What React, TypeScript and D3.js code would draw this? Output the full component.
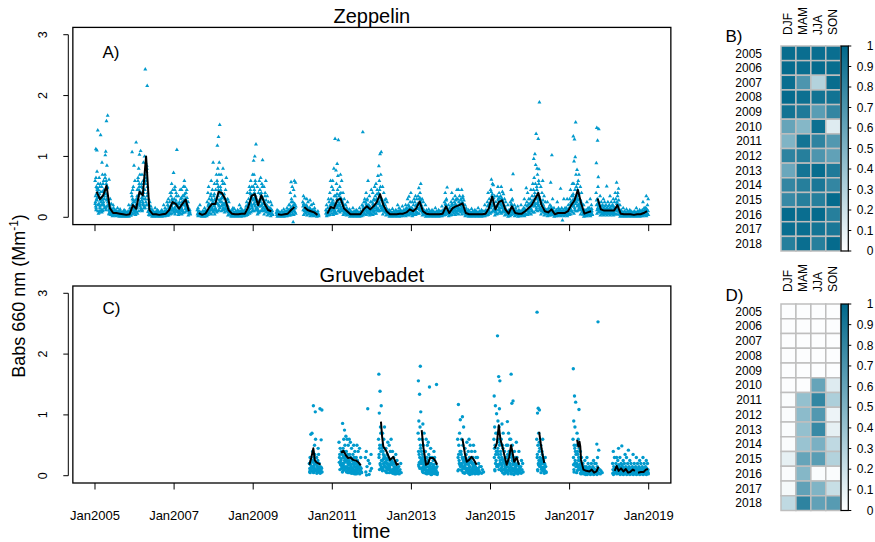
import React from "react";
import * as d3 from "d3";

// ---------------- data ----------------
const years = [2005, 2006, 2007, 2008, 2009, 2010, 2011, 2012, 2013, 2014, 2015, 2016, 2017, 2018];
const seasons = ["DJF", "MAM", "JJA", "SON"];
const xTickYears = [2005, 2007, 2009, 2011, 2013, 2015, 2017, 2019];
const yTicks = [0, 1, 2, 3];
const colorbarTicks = [0, 0.1, 0.2, 0.3, 0.4, 0.5, 0.6, 0.7, 0.8, 0.9, 1];

// seasonal data coverage (fraction), rows = years, cols = DJF MAM JJA SON
const zepCoverage = [
  [0.97, 0.96, 0.96, 0.96],
  [0.98, 0.96, 0.98, 0.97],
  [0.96, 0.7, 0.3, 0.97],
  [0.98, 0.95, 0.93, 0.93],
  [0.93, 0.88, 0.65, 0.8],
  [0.6, 0.48, 0.95, 0.13],
  [0.5, 0.92, 0.82, 0.68],
  [0.82, 0.85, 0.7, 0.62],
  [0.58, 0.92, 0.97, 0.88],
  [0.8, 0.85, 0.9, 0.8],
  [0.78, 0.85, 0.85, 0.98],
  [0.98, 0.96, 0.98, 0.85],
  [0.96, 0.96, 0.92, 0.9],
  [0.85, 0.96, 0.85, 0.98],
];
const gruCoverage = [
  [0.01, 0.01, 0.01, 0.01],
  [0.01, 0.01, 0.01, 0.01],
  [0.01, 0.01, 0.01, 0.01],
  [0.01, 0.01, 0.01, 0.01],
  [0.01, 0.01, 0.01, 0.01],
  [0.01, 0.01, 0.6, 0.13],
  [0.02, 0.42, 0.8, 0.32],
  [0.02, 0.45, 0.68, 0.07],
  [0.02, 0.42, 0.78, 0.1],
  [0.02, 0.4, 0.52, 0.25],
  [0.1, 0.6, 0.65, 0.3],
  [0.02, 0.48, 0.02, 0.02],
  [0.04, 0.62, 0.5, 0.22],
  [0.25, 0.82, 0.62, 0.66],
];

// Zeppelin running mean, monthly (Mm-1)
const zepMonthlyMean: (number | null)[][] = [
  [0.42, 0.30, 0.36, 0.52, 0.15, 0.07, 0.07, 0.06, 0.05, 0.04, 0.05, 0.20],
  [0.14, 0.42, 0.36, 1.0, 0.12, 0.05, 0.05, 0.04, 0.05, 0.06, 0.12, 0.25],
  [0.22, 0.14, 0.22, 0.29, 0.10, null, null, 0.07, 0.04, 0.06, 0.15, 0.22],
  [0.22, 0.42, 0.40, 0.30, 0.12, 0.06, 0.05, 0.05, 0.06, 0.06, 0.17, 0.35],
  [0.38, 0.20, 0.36, 0.22, 0.12, 0.10, null, 0.05, 0.04, 0.05, 0.06, 0.12],
  [0.17, null, null, 0.17, 0.12, 0.10, 0.08, 0.04, null, null, 0.06, 0.17],
  [0.15, 0.28, 0.31, 0.15, 0.10, 0.05, 0.05, 0.05, 0.05, 0.13, 0.18, 0.13],
  [0.18, 0.25, 0.38, 0.20, 0.10, 0.05, 0.05, 0.05, 0.06, 0.06, 0.08, 0.13],
  [0.10, 0.15, 0.26, 0.10, 0.06, 0.05, 0.05, 0.05, 0.05, 0.06, 0.18, 0.07],
  [0.15, 0.18, 0.20, 0.23, 0.07, 0.05, 0.05, 0.05, 0.05, 0.05, 0.06, 0.15],
  [0.34, 0.13, 0.25, 0.28, 0.13, 0.06, 0.18, 0.07, 0.06, 0.06, 0.10, 0.15],
  [0.20, 0.30, 0.40, 0.20, 0.10, 0.08, 0.13, 0.05, 0.07, 0.07, 0.07, 0.10],
  [0.20, 0.28, 0.45, 0.23, 0.06, 0.08, 0.10, null, 0.31, 0.13, 0.11, 0.11],
  [0.11, 0.11, 0.20, 0.06, 0.05, 0.05, 0.05, 0.04, 0.05, 0.05, 0.07, 0.10],
];

// Zeppelin daily values, grouped by month (Mm-1)
const zep2005 = [
  [.12,.2,.28,.35,.42,.5,.6,.75,1.12,1.43,.3,.25,.45,.15,.55,1.1,.18,.32,.38,.22,.48,.65,.1],
  [.08,.12,.18,.22,.3,.38,.45,.55,.65,.25,.15,.35,1.35,.1,.2,.28,.33,.42,.5,.06],
  [.1,.15,.2,.28,.35,.42,.5,.6,.7,.3,.22,.9,.45,.12,.18,.25,.32,.38,.55,.08],
  [.15,.25,.3,.4,.5,.6,.7,.85,1.08,1.67,1.58,1.02,.35,.45,.2,.28,.38,.48,.55,.65,.18,.12],
  [.05,.08,.1,.12,.15,.2,.25,.3,.62,.12,.07,.18,.09,.14,.22,.11,.06,.04],
  [.02,.03,.05,.06,.08,.1,.12,.15,.04,.07,.2,.05,.09,.03,.11,.06,.13],
  [.02,.03,.04,.06,.08,.1,.12,.05,.07,.15,.09,.04,.06,.11,.03,.08],
  [.01,.02,.04,.05,.06,.08,.1,.13,.03,.07,.05,.09,.02,.06,.04,.11],
  [.01,.02,.03,.04,.05,.06,.08,.1,.04,.12,.03,.07,.05,.02,.09],
  [.01,.02,.03,.04,.05,.06,.08,.02,.1,.04,.03,.05,.07,.02,.06],
  [.01,.03,.04,.05,.06,.08,.1,.15,.2,.03,.05,.07,.12,.04,.09],
  [.05,.1,.15,.2,.25,.3,.4,.5,1.07,.85,.12,.08,.18,.22,.14,.28,.35,.06,.45],
];
const zep2006 = [
  [.04,.06,.1,.12,.15,.2,.25,.3,.08,.45,1.23,.6,.18,.14,.22,.09,.28,.35,.11],
  [.1,.15,.2,.3,.4,.5,.6,.7,.8,1.09,1.03,.35,.25,.45,.12,.22,.28,.38,.55,.65,.18],
  [.1,.15,.2,.28,.35,.42,.5,.6,.7,.3,.25,.55,.9,.12,.18,.22,.32,.4,.48],
  [.3,.5,.6,.7,.8,.9,1.0,.75,2.43,2.16,.65,.45,.85,.55,.4,.2,.15,.35,.25,.6],
  [.04,.06,.08,.1,.12,.15,.2,.25,.3,.07,.05,.09,.13,.11,.18,.03],
  [.01,.02,.03,.04,.05,.06,.08,.1,.13,.03,.05,.07,.04,.09,.02],
  [.01,.02,.03,.04,.05,.06,.08,.1,.15,.04,.06,.03,.07,.05,.12],
  [.01,.02,.03,.04,.05,.06,.08,.02,.1,.03,.05,.04,.07,.06],
  [.01,.02,.03,.05,.06,.08,.1,.04,.12,.2,.03,.07,.05,.09],
  [.02,.03,.04,.05,.06,.08,.1,.12,.15,.25,.04,.07,.05,.09,.03],
  [.03,.05,.08,.1,.12,.15,.2,.25,.3,.4,.06,.09,.14,.18,.11,.07],
  [.06,.1,.15,.2,.25,.3,.35,.45,.55,.73,.12,.18,.22,.28,.08,.14,.4],
];
const zep2007 = [
  [.05,.1,.12,.15,.2,.25,.3,.4,.5,1.11,.18,.08,.35,.14,.22,.28,.45,.1],
  [.04,.06,.08,.1,.12,.15,.2,.25,.35,.45,.07,.09,.13,.18,.11,.22],
  [.05,.08,.12,.15,.2,.25,.3,.35,.45,.5,.1,.18,.22,.14,.28,.07,.32],
  [.08,.12,.15,.2,.25,.3,.35,.4,.5,.45,.18,.6,.28,.22,.32,.14,.38,.1],
  [.03,.05,.07,.1,.12,.15,.2,.08,.25,.06,.11,.14,.09],
  [],
  [],
  [.02,.03,.05,.06,.08,.1,.12,.04,.15,.2,.07,.05,.09,.03],
  [.01,.02,.03,.04,.05,.06,.08,.1,.03,.05,.04,.07,.02,.06],
  [.01,.02,.04,.05,.06,.08,.1,.12,.15,.03,.05,.07,.04,.09],
  [.04,.06,.08,.1,.15,.2,.25,.3,.4,.12,.5,.07,.11,.18,.14,.22],
  [.05,.1,.15,.2,.25,.3,.35,.45,.6,.9,.12,.18,.22,.28,.08,.14,.38],
];
const zep2008 = [
  [.05,.1,.15,.2,.25,.3,.35,.45,.55,.7,.12,.18,.22,.28,.08,.14,.38],
  [.1,.15,.2,.3,.4,.5,.6,.7,.8,1.52,1.32,1.18,.9,.35,.25,.12,.22,.28,.45,.55,.18],
  [.1,.15,.2,.3,.35,.4,.5,.6,.7,.8,.25,.45,.12,.18,.22,.32,.38,.55],
  [.08,.1,.15,.2,.25,.3,.35,.45,.55,.65,.2,.12,.18,.22,.28,.14,.38],
  [.03,.05,.08,.1,.12,.15,.2,.25,.3,.06,.09,.13,.11,.18,.07],
  [.01,.02,.04,.05,.06,.08,.1,.12,.03,.15,.05,.07,.04,.09],
  [.01,.02,.03,.04,.05,.06,.08,.1,.14,.03,.05,.07,.04,.06],
  [.01,.02,.03,.04,.05,.06,.08,.1,.12,.2,.03,.05,.07,.04],
  [.01,.02,.04,.05,.06,.08,.1,.12,.15,.03,.05,.07,.04,.09],
  [.02,.03,.04,.05,.06,.08,.1,.13,.04,.18,.05,.07,.03,.09],
  [.04,.06,.08,.1,.15,.2,.25,.3,.4,.5,.12,.07,.11,.18,.14,.22],
  [.08,.12,.18,.25,.3,.35,.4,.5,.6,.7,.2,.45,.15,.22,.28,.32,.38,.1],
];
const zep2009 = [
  [.1,.15,.2,.3,.35,.4,.5,.6,.7,1.2,1.0,.93,.25,.45,.12,.18,.22,.28,.32,.38,.55],
  [.05,.08,.12,.15,.2,.25,.3,.4,.5,.6,.1,.14,.18,.22,.28,.07],
  [.1,.15,.2,.25,.3,.35,.45,.55,.65,.94,.4,.28,.12,.18,.22,.32,.38,.5],
  [.05,.08,.12,.15,.2,.25,.3,.4,.5,.6,.18,.1,.14,.22,.28,.35],
  [.03,.05,.08,.1,.12,.15,.2,.25,.35,.07,.09,.13,.11,.18],
  [.02,.04,.06,.08,.1,.12,.15,.2,.25,.05,.07,.09,.11,.14],
  [],
  [.01,.02,.03,.04,.05,.06,.08,.1,.12,.03,.05,.07,.04],
  [.01,.02,.03,.04,.05,.06,.08,.1,.03,.05,.04,.07,.02],
  [.01,.02,.03,.04,.05,.06,.08,.1,.13,.03,.05,.07,.04],
  [.02,.03,.04,.05,.06,.08,.1,.12,.15,.2,.04,.07,.05,.09],
  [.03,.05,.08,.1,.12,.15,.2,.3,.4,.5,.58,.06,.09,.14,.18,.25,.11],
];
const zep2010 = [
  [.04,.06,.1,.12,.15,.2,.25,.35,.45,.57,.6,-.08,.08,.14,.18,.22,.11],
  [],
  [],
  [.04,.06,.1,.12,.15,.2,.25,.31,.35,.08,.14,.18,.11,.22],
  [.03,.05,.08,.1,.12,.15,.2,.25,.3,.06,.09,.13,.11,.18],
  [.02,.04,.06,.08,.1,.12,.15,.2,.28,.05,.07,.09,.11,.14],
  [.02,.03,.05,.06,.08,.1,.12,.15,.22,.04,.07,.09,.11],
  [.01,.02,.03,.04,.05,.06,.08,.1,.03,.05,.04,.07],
  [],
  [],
  [.02,.03,.05,.06,.08,.1,.12,.15,.2,.3,.04,.07,.09],
  [.04,.06,.1,.12,.15,.2,.25,.3,.4,.5,.6,.08,.14,.18,.22,.11],
];
const zep2011 = [
  [.04,.06,.08,.12,.15,.2,.25,.35,.45,1.29,.8,.6,.1,.14,.18,.22,.28,.11],
  [.06,.1,.15,.2,.25,.3,.35,.45,.55,1.27,.88,.77,.68,.2,.12,.18,.22,.28,.38],
  [.08,.12,.15,.2,.25,.3,.35,.4,.5,.6,.7,.22,.14,.18,.28,.32,.38,.1],
  [.04,.06,.08,.12,.15,.2,.25,.3,.4,.1,.14,.18,.11,.22],
  [.03,.05,.07,.1,.12,.15,.2,.25,.06,.09,.13,.11,.08],
  [.01,.02,.03,.04,.05,.06,.08,.1,.13,.03,.05,.07,.04],
  [.01,.02,.03,.04,.05,.06,.08,.1,.15,.03,.05,.07,.04],
  [.01,.02,.03,.04,.05,.06,.08,.1,.12,.03,.05,.07,.04],
  [.01,.02,.03,.04,.05,.06,.08,.1,.15,.03,.05,.07,.04],
  [.03,.05,.08,.1,.12,.15,.2,.25,1.4,.3,.06,.09,.14,.18,.11],
  [.04,.06,.1,.12,.15,.2,.25,.3,.4,.6,.08,.14,.18,.22,.11,.28],
  [.03,.05,.08,.1,.12,.15,.2,.25,.35,.45,.06,.09,.14,.18,.11],
];
const zep2012 = [
  [.04,.06,.1,.12,.15,.2,.25,.3,.4,.5,.08,.14,.18,.22,.11,.28],
  [.06,.1,.15,.2,.25,.3,.35,.45,.55,.68,.12,.18,.22,.28,.14,.38],
  [.1,.15,.2,.25,.3,.35,.4,.5,.6,1.07,1.04,.84,.7,.45,.12,.18,.22,.28,.32,.38],
  [.05,.08,.12,.15,.2,.25,.3,.4,.5,.1,.14,.18,.22,.11,.28],
  [.03,.05,.07,.1,.12,.15,.2,.25,.3,.06,.09,.13,.11,.08],
  [.01,.02,.03,.04,.05,.06,.08,.1,.12,.03,.05,.07,.04],
  [.01,.02,.03,.04,.05,.06,.08,.1,.14,.03,.05,.07,.04],
  [.01,.02,.03,.04,.05,.06,.08,.1,.12,.2,.03,.05,.07,.04],
  [.01,.02,.04,.05,.06,.08,.1,.12,.15,.03,.05,.07,.04,.09],
  [.02,.03,.04,.05,.06,.08,.1,.12,.18,.04,.07,.05,.09],
  [.02,.04,.05,.07,.08,.1,.12,.15,.2,.3,.06,.09,.11,.14],
  [.03,.05,.08,.1,.12,.15,.2,.25,.34,.4,.06,.09,.14,.18,.11],
];
const zep2013 = [
  [.02,.04,.06,.08,.1,.12,.15,.2,.25,.3,.05,.09,.11,.14],
  [.04,.06,.08,.1,.15,.2,.25,.3,.35,.07,.09,.12,.14,.18,.22],
  [.06,.1,.15,.2,.25,.3,.35,.4,.48,.55,.12,.14,.18,.22,.28,.32],
  [.03,.05,.07,.1,.12,.15,.2,.25,.3,.06,.09,.13,.11,.08],
  [.01,.02,.04,.05,.06,.08,.1,.12,.2,.03,.07,.05,.09],
  [.01,.02,.03,.04,.05,.06,.08,.1,.13,.03,.05,.07,.04],
  [.01,.02,.03,.04,.05,.06,.08,.1,.12,.03,.05,.07,.04],
  [.01,.02,.03,.04,.05,.06,.08,.1,.15,.03,.05,.07,.04],
  [.01,.02,.03,.04,.05,.06,.08,.1,.12,.03,.05,.07,.04],
  [.02,.03,.04,.05,.06,.08,.1,.12,.18,.04,.07,.05,.09],
  [.04,.06,.1,.12,.15,.2,.25,.3,.4,.49,.08,.14,.18,.22,.11,.28],
  [.02,.03,.05,.06,.08,.1,.12,.15,.2,.04,.07,.09,.11],
];
const zep2014 = [
  [.04,.06,.08,.12,.15,.2,.25,.3,.4,.1,.14,.18,.11,.22],
  [.04,.06,.1,.12,.15,.2,.25,.3,.35,.45,.08,.14,.18,.22,.11,.28],
  [.05,.08,.12,.15,.2,.25,.3,.35,.45,.1,.14,.18,.22,.11,.28],
  [.05,.1,.12,.15,.2,.25,.3,.35,.45,.08,.14,.18,.22,.11,.28,.32],
  [.02,.03,.05,.06,.08,.1,.12,.15,.2,.04,.07,.09,.11],
  [.01,.02,.03,.04,.05,.06,.08,.1,.12,.03,.05,.07,.04],
  [.01,.02,.03,.04,.05,.06,.08,.1,.14,.03,.05,.07,.04],
  [.01,.02,.03,.04,.05,.06,.08,.1,.12,.03,.05,.07,.04],
  [.01,.02,.03,.04,.05,.06,.08,.1,.15,.03,.05,.07,.04],
  [.01,.02,.03,.04,.05,.06,.08,.1,.12,.03,.05,.07,.04],
  [.02,.03,.04,.05,.06,.08,.1,.12,.2,.04,.07,.05,.09],
  [.04,.06,.08,.1,.15,.2,.25,.3,.4,.07,.12,.18,.22,.11],
];
const zep2015 = [
  [.08,.12,.18,.25,.3,.35,.45,.55,.62,.53,.2,.15,.22,.28,.32,.38,.42,.1],
  [.03,.05,.08,.1,.12,.15,.2,.25,.35,.06,.09,.14,.18,.11],
  [.06,.1,.12,.18,.22,.28,.35,.4,.5,.15,.14,.2,.25,.3,.08,.32],
  [.06,.1,.15,.2,.25,.3,.35,.42,.5,.12,.18,.22,.28,.32,.38,.08],
  [.03,.05,.08,.1,.12,.15,.2,.25,.3,.06,.09,.13,.11,.18],
  [.01,.02,.04,.05,.06,.08,.1,.12,.2,.03,.07,.05,.09],
  [.04,.06,.1,.12,.15,.2,.25,.3,.45,.71,.08,.14,.18,.22,.11,.28],
  [.02,.03,.05,.06,.08,.1,.12,.15,.2,.04,.07,.09,.11],
  [.01,.02,.04,.05,.06,.08,.1,.12,.18,.03,.07,.05,.09],
  [.02,.03,.04,.05,.06,.08,.1,.12,.2,.04,.07,.05,.09],
  [.02,.04,.06,.08,.1,.12,.15,.2,.3,.48,.05,.09,.11,.14],
  [.04,.06,.08,.1,.15,.2,.25,.3,.4,.07,.12,.18,.22,.11],
];
const zep2016 = [
  [.05,.08,.12,.15,.2,.25,.3,.35,.45,.55,.1,.14,.18,.22,.28],
  [.08,.12,.18,.25,.3,.35,.45,.55,.65,1.37,1.04,.96,.86,.2,.15,.22,.28,.32,.4],
  [.1,.15,.2,.3,.35,.4,.5,.6,.7,1.89,1.29,.8,.79,.25,.12,.18,.22,.28,.32,.45,.55],
  [.05,.08,.12,.15,.2,.25,.3,.4,.5,.6,.1,.14,.18,.22,.28],
  [.03,.05,.07,.1,.12,.15,.2,.25,.35,.06,.09,.13,.11,.08],
  [.02,.03,.05,.06,.08,.1,.12,.15,.25,.04,.07,.09,.11],
  [.03,.05,.08,.1,.12,.15,.2,1.02,.57,.3,.06,.09,.14,.18,.11],
  [.01,.02,.03,.04,.05,.06,.08,.1,.15,.03,.05,.07,.04],
  [.02,.03,.05,.06,.08,.1,.12,.15,.25,.04,.07,.09,.11],
  [.02,.03,.05,.06,.08,.1,.12,.15,.47,-.05,.04,.07,.09,.11],
  [.02,.03,.05,.06,.08,.1,.12,.15,.3,.04,.07,.09,.11],
  [.02,.04,.06,.08,.1,.12,.15,.2,.3,.05,.09,.11,.14],
];
const zep2017 = [
  [.05,.08,.12,.15,.2,.25,.3,.35,.45,.55,.1,.14,.18,.22,.28],
  [.06,.1,.15,.2,.25,.3,.35,.45,.55,1.56,1.28,1.33,.99,.92,.7,.12,.18,.22,.28,.38],
  [.1,.15,.2,.3,.4,.45,.5,.6,.78,.7,.35,.25,.12,.18,.22,.28,.32,.38,.55],
  [.05,.08,.12,.15,.2,.25,.3,.4,.5,.1,.14,.18,.22,.28],
  [.01,.02,.04,.05,.06,.08,.1,.12,.2,.03,.07,.05,.09],
  [.02,.03,.05,.06,.08,.1,.12,.15,.25,.04,.07,.09,.11],
  [.02,.04,.06,.08,.1,.12,.15,.2,.3,.05,.09,.11,.14],
  [],
  [.06,.1,.15,.2,.25,.3,.4,.5,1.47,1.45,1.26,.89,.66,.12,.18,.22,.28,.08],
  [.03,.05,.08,.1,.12,.15,.2,.25,.35,.06,.09,.14,.18,.11],
  [.03,.05,.07,.1,.12,.15,.2,.25,.3,.06,.09,.14,.18,.11],
  [.03,.05,.07,.1,.12,.15,.2,.25,.51,.06,.09,.14,.18,.11],
];
const zep2018 = [
  [.03,.05,.07,.1,.12,.15,.2,.25,.35,.06,.09,.14,.18,.11],
  [.03,.05,.07,.1,.12,.15,.2,.25,.3,.4,.06,.09,.14,.18,.11],
  [.05,.08,.12,.15,.2,.25,.3,.4,.57,.47,.1,.14,.18,.22,.28,.35],
  [.01,.02,.04,.05,.06,.08,.1,.12,.2,.03,.07,.05,.09],
  [.01,.02,.03,.04,.05,.06,.08,.1,.15,.03,.05,.07,.04],
  [.01,.02,.03,.04,.05,.06,.08,.1,.13,.03,.05,.07,.04],
  [.01,.02,.03,.04,.05,.06,.08,.1,.12,.03,.05,.07,.04],
  [.01,.02,.03,.04,.05,.06,.08,.1,.03,.05,.07,.04],
  [.01,.02,.03,.04,.05,.06,.08,.1,.15,.03,.05,.07,.04],
  [.01,.02,.03,.04,.05,.06,.08,.1,.12,.03,.05,.07,.04],
  [.02,.03,.05,.06,.08,.1,.12,.15,.25,.04,.07,.09,.11],
  [.02,.04,.06,.08,.1,.12,.15,.2,.35,.3,.05,.09,.11,.14],
];
const zepPoints = [zep2005, zep2006, zep2007, zep2008, zep2009, zep2010, zep2011,
  zep2012, zep2013, zep2014, zep2015, zep2016, zep2017, zep2018];

// Gruvebadet daily values, grouped by month (Mm-1)
const gruYears = [2010, 2011, 2012, 2013, 2014, 2015, 2016, 2017, 2018];
const gru2010 = [
  [], [], [], [], [],
  [.05,.08,.1,.12,.15,.18,.2,.25,.3,.7,.68,.06,.15,.09,.13,.22],
  [.05,.08,.1,.15,.2,.3,.4,.5,1.15,1.05,.12,.25,.35,.07,.6,.18,.22,.09,.14],
  [.04,.06,.08,.1,.12,.15,.2,.25,.3,.35,.18,.09,.45,.07,.13,.22],
  [.04,.06,.08,.1,.12,.15,.2,.59,1.1,1.08,.05,.09,.13],
  [], [], [],
];
const gru2011 = [
  [], [],
  [.1,.15,.2,.3,.4,.45,.55,.25,.35,.12,.18,.22,.28],
  [.08,.12,.15,.2,.25,.3,.35,.4,.45,.5,.6,.86,.75,.18,.28,.1,.14,.22,.32,.06],
  [.06,.1,.12,.15,.2,.25,.3,.35,.4,.5,.6,.65,.22,.08,.18,.14,.28,.05,.32],
  [.05,.08,.1,.12,.15,.2,.25,.3,.35,.45,.55,.6,.18,.06,.28,.14,.22,.04,.09],
  [.04,.06,.08,.1,.15,.2,.25,.3,.35,.4,.5,.12,.22,.05,.14,.18,.09,.03],
  [.03,.05,.08,.1,.12,.15,.2,.25,.3,.4,.5,.1,.18,.06,.14,.22,.04],
  [.03,.05,.08,.1,.12,.15,.2,.3,.45,.06,.09,.14],
  [],
  [.4,.25,.15,.06,1.1,.01,.3],
  [.2,.12,.08,.02,.35],
];
const gru2012 = [
  [], [],
  [.1,.15,.2,.3,.4,.5,.6,.8,1.03,1.15,1.39,1.67,.7,.45,.25,.18,.35,.12],
  [.1,.15,.2,.25,.3,.4,.5,.6,.7,.8,.35,.45,.18,.12,.22,.28,.08,.32],
  [.06,.1,.12,.15,.2,.25,.3,.35,.45,.55,.2,.08,.28,.14,.18,.05,.22],
  [.05,.08,.1,.15,.2,.25,.3,.4,.5,.6,.18,.12,.06,.14,.22,.09,.28],
  [.04,.06,.08,.1,.15,.2,.25,.3,.4,.1,.05,.18,.12,.22,.03],
  [.03,.05,.08,.1,.12,.15,.2,.25,.35,.06,.09,.14,.04],
  [.03,.05,.1,.15,.2,.08],
  [], [], [],
];
const gru2013 = [
  [], [],
  [.15,.2,.3,.4,.5,.6,.7,.8,.9,1.05,1.34,1.56,1.8,.35,.25,.12,.18,.45,.22],
  [.08,.1,.15,.2,.25,.3,.4,.5,.6,.7,.85,.12,.05,.35,.18,.22,.28,.14,.06],
  [.04,.06,.08,.1,.15,.2,.25,.3,.4,.5,.6,.12,.03,.18,.22,.09,.14,.05],
  [.04,.06,.08,.1,.15,.2,.25,.3,.35,.45,1.46,.55,.12,.05,.02,.18,.22,.09,.14],
  [.03,.05,.08,.1,.12,.15,.2,.25,.3,.4,.06,.02,.18,.09,.14,.04],
  [.03,.05,.08,.1,.15,.2,.3,1.5,.06,.02,.12,.04],
  [], [], [], [],
];
const gru2014 = [
  [], [],
  [.1,.15,.2,.3,.4,.5,.6,.7,1.17,.92,.25,.08,.18,.35],
  [.08,.12,.15,.2,.25,.3,.4,.5,.6,.8,.97,.35,.05,.18,.22,.28,.1,.14],
  [.05,.08,.1,.15,.2,.25,.3,.35,.45,.55,.12,.04,.2,.18,.09,.28,.14],
  [.04,.06,.1,.12,.15,.2,.25,.3,.4,.5,.6,.08,.02,.18,.22,.14,.05],
  [.03,.05,.08,.1,.15,.2,.25,.3,.4,.5,.12,.06,.18,.22,.09,.04],
  [.03,.05,.08,.1,.12,.15,.2,.3,.4,.06,.14,.18,.04],
  [.03,.05,.08,.1,.15,.2,.3,.05,.12],
  [.04,.06,.1,.15],
  [], [],
];
const gru2015 = [
  [],
  [.1,.15,.2,.3,.4,.5,.6,.7,.8,1.02,1.15,1.31,.25,.08,.18,.35,.45],
  [.15,.2,.3,.4,.5,.6,.7,.8,.9,1.56,1.63,2.3,1.1,.35,.25,.1,.45,.55,.18],
  [.08,.1,.15,.2,.25,.3,.4,.5,.6,.7,.85,.35,.05,.18,.22,.28,.12,.45],
  [.04,.06,.08,.1,.15,.2,.25,.3,.4,.5,.12,.03,.2,.18,.09,.14,.22],
  [.05,.08,.1,.15,.2,.25,.3,.4,.5,.6,.7,.89,.12,.03,.18,.22,.35,.09],
  [.05,.08,.1,.15,.2,.3,.4,.5,1.67,1.23,1.19,.6,.12,.03,.18,.25,.35,.09],
  [.04,.06,.08,.1,.15,.2,.25,.3,.4,.55,.12,.02,.18,.22,.09,.14],
  [.03,.05,.08,.1,.15,.2,.3,.4,.06,.12,.18,.04],
  [.04,.06,.1,.15,.2,.25,.08],
  [], [],
];
const gru2016 = [
  [], [],
  [.1,.15,.2,.3,.4,.5,.6,.7,1.03,1.08,1.11,2.69,.25,.08,.45,.18,.35,.55],
  [.05,.08,.12,.15,.2,.25,.3,.4,.5,.6,.1,.18,.35,.22,.14,.28,.45],
  [.04,.06,.08,.1,.15,.2,.25,.3,.12,.05,.18,.09],
  [], [], [], [], [], [], [],
];
const gru2017 = [
  [],
  [.1,.15,.2,.3,.4,.5,.6,.8,.9,1.21,1.31,1.76,.25,.06,.35,.45,.18],
  [.08,.12,.15,.2,.3,.4,.5,.6,.7,1.09,.35,.05,.25,.18,.45,.1],
  [.04,.06,.08,.1,.15,.2,.25,.3,.4,.12,.03,.18,.09,.14,.05],
  [.03,.05,.07,.1,.12,.15,.2,.25,.06,.02,.09,.04,.14],
  [.02,.04,.06,.08,.1,.12,.15,.2,.3,.05,.03,.09],
  [.02,.04,.06,.08,.1,.12,.15,.2,.05,.03,.07,.11],
  [.02,.04,.06,.08,.1,.12,.15,.2,.25,.05,.03,.09],
  [.02,.04,.06,.08,.1,.15,.2,2.53,.52,.42,.3,.05,.12],
  [.03,.05,.08,.1],
  [], [],
];
const gru2018 = [
  [],
  [.02,.05,.08,.1,.12,.15,.2,.3,.4,.06,.09,.04],
  [.03,.05,.08,.1,.12,.15,.2,.25,.3,.45,.06,.09,.04,.14,.18],
  [.02,.04,.06,.08,.1,.12,.15,.2,.3,.49,.05,.09,.03,.14,.18],
  [.02,.04,.06,.08,.1,.12,.15,.2,.25,.35,.03,.07,.05,.11],
  [.02,.03,.05,.07,.1,.12,.15,.2,.3,.42,.04,.08,.06,.11],
  [.02,.03,.05,.07,.1,.12,.15,.2,.25,.05,.04,.08,.06],
  [.02,.03,.05,.07,.1,.12,.15,.2,.35,.04,.06,.08,.11],
  [.02,.03,.05,.07,.1,.12,.15,.2,.3,.04,.06,.08],
  [.02,.03,.05,.07,.1,.12,.15,.2,.25,.04,.06,.08],
  [.02,.03,.05,.07,.1,.12,.15,.2,.3,.04,.06,.08,.11],
  [.02,.03,.05,.07,.1,.12,.15,.2,.25,.05,.04,.06,.08,.11],
];
const gruPoints = [gru2010, gru2011, gru2012, gru2013, gru2014, gru2015, gru2016, gru2017, gru2018];

// Gruvebadet running mean: [decimal year, Mm-1], null = gap
const gruMean: ([number, number] | null)[] = [
  [2010.42,.18],[2010.47,.3],[2010.52,.45],[2010.56,.25],[2010.6,.22],[2010.66,.2],[2010.7,.18], null,
  [2011.22,.38],[2011.28,.41],[2011.34,.34],[2011.4,.29],[2011.46,.3],[2011.53,.26],[2011.6,.25],[2011.66,.22],[2011.72,.17], null,
  [2012.23,.89],[2012.26,.64],[2012.29,.48],[2012.37,.4],[2012.46,.26],[2012.54,.31],[2012.63,.18],[2012.68,.2], null,
  [2013.26,.75],[2013.3,.48],[2013.37,.18],[2013.42,.2],[2013.47,.29],[2013.55,.29],[2013.6,.25],[2013.65,.18], null,
  [2014.29,.61],[2014.35,.37],[2014.4,.23],[2014.46,.26],[2014.52,.31],[2014.58,.26],[2014.65,.18], null,
  [2015.11,.45],[2015.16,.53],[2015.21,.83],[2015.25,.6],[2015.3,.48],[2015.36,.31],[2015.41,.18],[2015.47,.3],[2015.52,.5],[2015.56,.37],[2015.6,.23],[2015.66,.3],[2015.72,.18], null,
  [2016.23,.72],[2016.27,.53],[2016.31,.37],[2016.36,.21], null,
  [2017.19,.59],[2017.22,.48],[2017.25,.56],[2017.27,.48],[2017.29,.26],[2017.35,.1],[2017.42,.08],[2017.5,.07],[2017.56,.1],[2017.62,.05],[2017.68,.07],[2017.73,.15], null,
  [2018.14,.08],[2018.19,.16],[2018.24,.08],[2018.3,.12],[2018.36,.07],[2018.42,.11],[2018.48,.05],[2018.53,.06],[2018.6,.1],[2018.65,.08], null,
  [2018.73,.05],[2018.8,.06],[2018.87,.06],[2018.93,.1],[2018.98,.11],
];

// ---------------- drawing ----------------
const FONT = "'Liberation Sans', Arial, Helvetica, sans-serif";
const PT = "#009ACD";
const HI = "#00688B";

const x = d3.scaleLinear().domain([2005 - 0.56, 2019 + 0.56]).range([72.85, 670.85]);

type P = { t: number; v: number };

function flattenPoints(yrs: number[], data: number[][][]): P[] {
  const out: P[] = [];
  yrs.forEach((yr, yi) => {
    data[yi].forEach((month, m) => {
      month.forEach((v, i) => {
        const frac = ((i * 0.6180339 + 0.3) % 1) * 0.94 + 0.03;
        out.push({ t: yr + (m + frac) / 12, v });
      });
    });
  });
  return out;
}

const TRI = "M0,-2.3L2,1.15L-2,1.15Z";

function TimePanel(props: {
  top: number; bottom: number; title: string; titleY: number; tag: string; tagY: number;
  points: P[]; marker: "tri" | "dot"; linePath: string | null; xLabels: boolean;
  y: d3.ScaleLinear<number, number>;
}) {
  const { top, bottom, title, titleY, tag, tagY, points, marker, linePath, xLabels, y } = props;
  const left = x.range()[0], right = x.range()[1];
  return (
    <g>
      <text x={(left + right) / 2} y={titleY} textAnchor="middle" fontSize={20} fontFamily={FONT}>{title}</text>
      <g>
        {points.map((p, i) =>
          marker === "tri" ? (
            <path key={i} d={TRI} transform={`translate(${x(p.t).toFixed(2)},${y(p.v).toFixed(2)})`} fill={PT} />
          ) : (
            <circle key={i} cx={x(p.t)} cy={y(p.v)} r={1.7} fill={PT} />
          )
        )}
      </g>
      {linePath && <path d={linePath} fill="none" stroke="#000" strokeWidth={2} strokeLinejoin="round" />}
      <rect x={left} y={top} width={right - left} height={bottom - top} fill="none" stroke="#000" strokeWidth={1.3} />
      <text x={102.5} y={tagY} fontSize={17} fontFamily={FONT}>{tag}</text>
      {/* y axis */}
      <line x1={68.3} x2={68.3} y1={y(0)} y2={y(3)} stroke="#000" strokeWidth={1} />
      {yTicks.map((t) => (
        <g key={t}>
          <line x1={63.3} x2={68.3} y1={y(t)} y2={y(t)} stroke="#000" strokeWidth={1} />
          <text transform={`translate(47,${y(t)}) rotate(-90)`} textAnchor="middle" fontSize={12.5} fontFamily={FONT}>{t}</text>
        </g>
      ))}
      {/* x axis */}
      {xTickYears.map((yr) => (
        <g key={yr}>
          <line x1={x(yr)} x2={x(yr)} y1={bottom} y2={bottom + 6.5} stroke="#000" strokeWidth={1} />
          {xLabels && (
            <text x={x(yr)} y={bottom + 37} textAnchor="middle" fontSize={13} fontFamily={FONT}>{`Jan${yr}`}</text>
          )}
        </g>
      ))}
    </g>
  );
}

function Heatmap(props: { values: number[][]; top: number; bottom: number; tag: string; tagY: number; seasonY: number; id: string }) {
  const { values, top, bottom, tag, tagY, seasonY, id } = props;
  const xb = d3.scaleBand<string>().domain(seasons).range([781, 840.7]);
  const yb = d3.scaleBand<string>().domain(years.map(String)).range([top, bottom]);
  const color = d3.scaleLinear<string>().domain([0, 1]).range(["#FFFFFF", HI]).interpolate(d3.interpolateRgb);
  const cb = d3.scaleLinear().domain([0, 1]).range([bottom, top]);
  const fmt = (v: number) => (v === 0 ? "0" : v === 1 ? "1" : d3.format(".1f")(v));
  return (
    <g fontFamily={FONT}>
      <defs>
        <linearGradient id={id} x1="0" y1="1" x2="0" y2="0">
          <stop offset="0" stopColor="#FFFFFF" />
          <stop offset="1" stopColor={HI} />
        </linearGradient>
      </defs>
      <text x={725.5} y={tagY} fontSize={17}>{tag}</text>
      {seasons.map((s) => (
        <text key={s} transform={`translate(${xb(s)! + xb.bandwidth() / 2 + 4},${seasonY}) rotate(-90)`} fontSize={12}>{s}</text>
      ))}
      {years.map((yr, r) => (
        <g key={yr}>
          <text x={762} y={yb(String(yr))! + yb.bandwidth() / 2} dy="0.35em" textAnchor="end" fontSize={12}>{yr}</text>
          {seasons.map((s, c) => (
            <rect key={s} x={xb(s)} y={yb(String(yr))} width={xb.bandwidth()} height={yb.bandwidth()}
              fill={color(values[r][c])} stroke="#BEBEBE" strokeWidth={1.5} />
          ))}
        </g>
      ))}
      <rect x={841} y={cb(1)} width={7.3} height={cb(0) - cb(1)} fill={`url(#${id})`} stroke="#000" strokeWidth={1.2} />
      {colorbarTicks.map((t) => (
        <g key={t}>
          <line x1={848.3} x2={851.3} y1={cb(t)} y2={cb(t)} stroke="#000" strokeWidth={1} />
          <text x={873.5} y={cb(t)} dy="0.35em" textAnchor="end" fontSize={12}>{fmt(t)}</text>
        </g>
      ))}
    </g>
  );
}

export default function App() {
  const yA = d3.scaleLinear().domain([-0.12, 3.12]).range([224.6, 27.4]);
  const yC = d3.scaleLinear().domain([-0.12, 3.12]).range([483, 286]);

  const zepPts = flattenPoints(years, zepPoints);
  const gruPts = flattenPoints(gruYears, gruPoints);

  const zepLineData: { t: number; v: number | null }[] = [];
  years.forEach((yr, yi) => zepMonthlyMean[yi].forEach((v, m) => zepLineData.push({ t: yr + (m + 0.5) / 12, v })));
  const zepLine = d3.line<{ t: number; v: number | null }>()
    .defined((d) => d.v !== null)
    .x((d) => x(d.t))
    .y((d) => yA(d.v as number))(zepLineData);

  const gruLine = d3.line<[number, number] | null>()
    .defined((d) => d !== null)
    .x((d) => x((d as [number, number])[0]))
    .y((d) => yC((d as [number, number])[1]))(gruMean);

  return (
    <svg width={875} height={542} viewBox="0 0 875 542" style={{ position: "absolute", left: 0, top: 0, background: "#fff" }}>
      <rect x={0} y={0} width={875} height={542} fill="#fff" />
      <TimePanel top={27.4} bottom={224.6} title="Zeppelin" titleY={23} tag="A)" tagY={58}
        points={zepPts} marker="tri" linePath={zepLine} xLabels={false} y={yA} />
      <TimePanel top={286} bottom={483} title="Gruvebadet" titleY={281.5} tag="C)" tagY={314}
        points={gruPts} marker="dot" linePath={gruLine} xLabels={true} y={yC} />
      <text x={371.5} y={538} textAnchor="middle" fontSize={20} fontFamily={FONT}>time</text>
      <text transform="translate(25,296) rotate(-90)" textAnchor="middle" fontSize={18} fontFamily={FONT}>
        Babs 660 nm (Mm<tspan dy={-7} fontSize={12}>-1</tspan><tspan dy={7}>)</tspan>
      </text>
      <Heatmap values={zepCoverage} top={46} bottom={251} tag="B)" tagY={41.7} seasonY={35} id="gradB" />
      <Heatmap values={gruCoverage} top={304} bottom={510.5} tag="D)" tagY={300.7} seasonY={292} id="gradD" />
    </svg>
  );
}
